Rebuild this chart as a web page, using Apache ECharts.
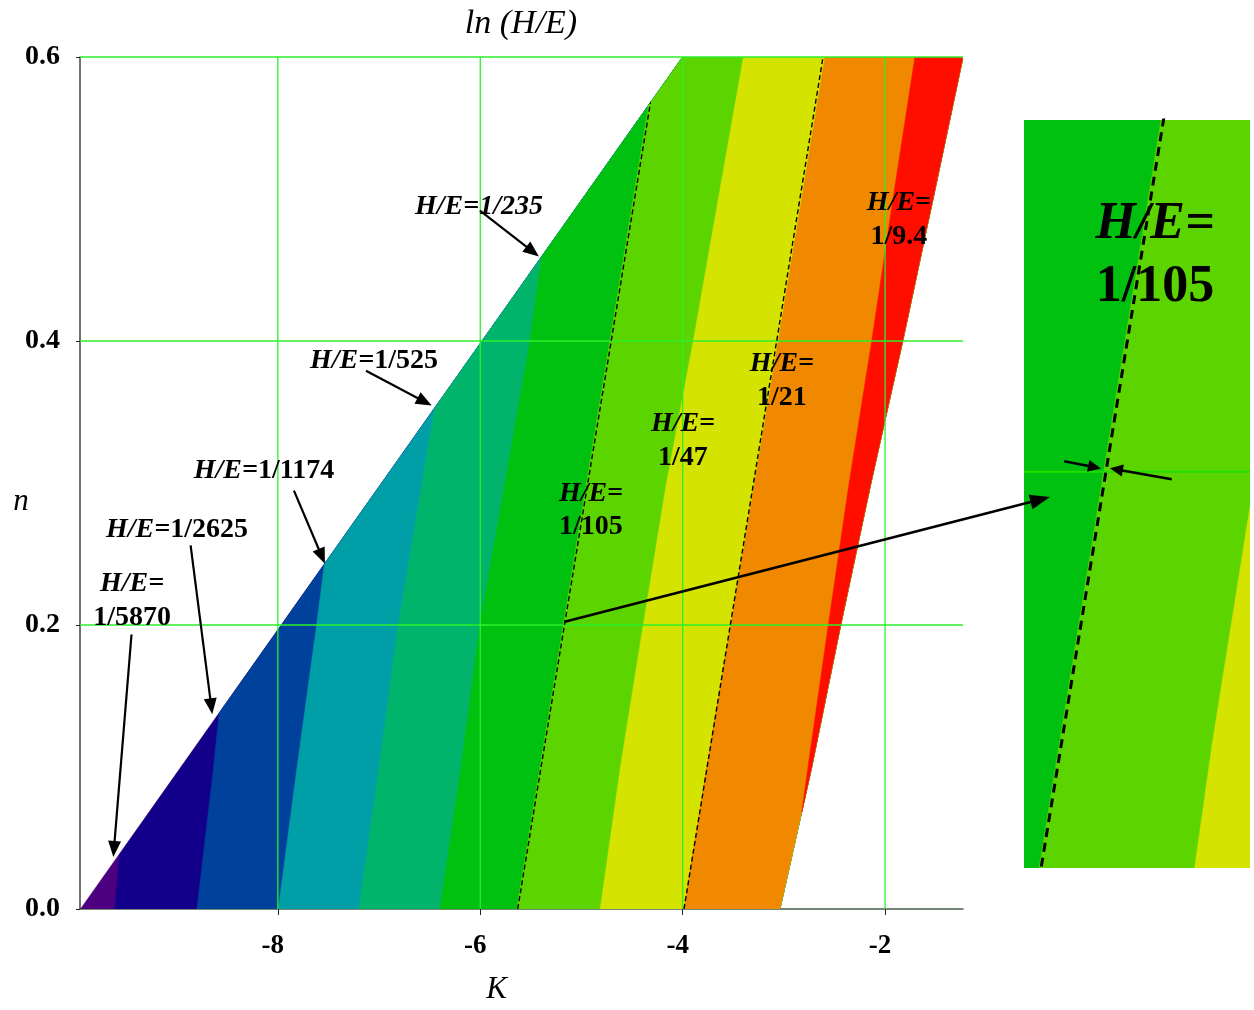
<!DOCTYPE html>
<html><head><meta charset="utf-8">
<script src="https://cdn.jsdelivr.net/npm/echarts@6/dist/echarts.min.js"></script>
<style>html,body{margin:0;padding:0;background:#fff}#c{width:1254px;height:1010px}</style>
</head><body><div id="c"></div>
<script>
// ---------------- DATA ----------------
// Contour boundaries of ln(H/E): K values at the listed n values.
const diagN = [0, 0.6];            // upper-left limit of the domain
const diagK = [-9.95, -4.0];
const rightN = [0, 0.1, 0.2, 0.3, 0.4, 0.5, 0.6];   // right limit of the domain
const rightK = [-3.039, -2.725, -2.439, -2.14, -1.826, -1.527, -1.23];

const b5870N = [0, 0.038];
const b5870K = [-9.61, -9.566];
const b2625N = [0, 0.1, 0.138];
const b2625K = [-8.80, -8.635, -8.581];
const b1174N = [0, 0.1, 0.2, 0.243];
const b1174K = [-7.996, -7.81, -7.617, -7.54];
const b525N = [0, 0.1, 0.2, 0.3, 0.353];
const b525K = [-7.199, -7.0, -6.81, -6.575, -6.449];
const b235N = [0, 0.1, 0.2, 0.3, 0.4, 0.4595];
const b235K = [-6.398, -6.19, -6.003, -5.755, -5.509, -5.393];
const b105N = [0, 0.1, 0.2, 0.3, 0.4, 0.5, 0.566];
const b105K = [-5.64, -5.41, -5.18, -4.95, -4.72, -4.49, -4.337];
const b47N = [0, 0.1, 0.2, 0.3, 0.4, 0.5, 0.6];
const b47K = [-4.815, -4.615, -4.39, -4.16, -3.895, -3.648, -3.40];
const b21N = [0, 0.1, 0.2, 0.3, 0.4, 0.5, 0.6];
const b21K = [-3.987, -3.763, -3.526, -3.29, -3.055, -2.824, -2.594];
const b9N = [0.068, 0.1, 0.2, 0.3, 0.4, 0.5, 0.6];
const b9K = [-2.823, -2.762, -2.561, -2.355, -2.132, -1.922, -1.705];

// Dashed reference lines
const dash105N = [0, 0.568];
const dash105K = [-5.63, -4.318];
const dash21N = [0, 0.6];
const dash21K = [-3.987, -2.613];

// Band names (left edge of each band) and colours
const bandNames = ['< 1/5870', '1/5870–1/2625', '1/2625–1/1174', '1/1174–1/525', '1/525–1/235',
                   '1/235–1/105', '1/105–1/47', '1/47–1/21', '1/21–1/9.4', '> 1/9.4'];
const bandColors = ['#4c007f', '#12008b', '#00419b', '#009fa8', '#00b46c',
                    '#00c10f', '#5bd400', '#d4e300', '#f08800', '#ff0e00'];
const bandEdgeN = [diagN, b5870N, b2625N, b1174N, b525N, b235N, b105N, b47N, b21N, b9N];
const bandEdgeK = [diagK, b5870K, b2625K, b1174K, b525K, b235K, b105K, b47K, b21K, b9K];

// Axis ticks
const xTicks = [-8, -6, -4, -2];
const yTicks = [0.0, 0.2, 0.4, 0.6];
const xGridLines = [-8, -6, -4, -2];
const yGridLines = [0.2, 0.4, 0.6];

// Annotation texts
const labelTexts = ['1/235', '1/525', '1/1174', '1/2625', '1/5870', '1/105', '1/47', '1/21', '1/9.4'];

// ---------------- CHART ----------------
const SERIF = "'Liberation Serif','Times New Roman',serif";
const chart = echarts.init(document.getElementById('c'), null, {renderer: 'canvas'});

function bandPoints(i, api) {
  const en = bandEdgeN[i], ek = bandEdgeK[i];
  const pts = [];
  for (let j = 0; j < en.length; j++) pts.push(api.coord([ek[j], en[j]]));
  if (en[en.length - 1] < diagN[1] - 1e-9) pts.push(api.coord([diagK[1], diagN[1]]));
  const nStart = en[0];
  for (let j = rightN.length - 1; j >= 0; j--) {
    if (rightN[j] >= nStart) pts.push(api.coord([rightK[j], rightN[j]]));
  }
  return pts;
}
function bandRender(params, api) {
  const i = params.dataIndex;
  return {type: 'polygon', z2: i, silent: true,
    shape: {points: bandPoints(i, api)},
    style: {fill: bandColors[i], stroke: bandColors[i], lineWidth: 0.5}};
}
function gridRender(width, color) {
  return function (params, api) {
    const cs = params.coordSys;
    const children = [];
    xGridLines.forEach(v => {
      const p = api.coord([v, 0]);
      if (p[0] >= cs.x - 0.5 && p[0] <= cs.x + cs.width + 0.5)
        children.push({type: 'line', shape: {x1: p[0], y1: cs.y, x2: p[0], y2: cs.y + cs.height},
          style: {stroke: color, lineWidth: width}});
    });
    yGridLines.forEach(v => {
      const p = api.coord([0, v]);
      if (p[1] >= cs.y - 0.5 && p[1] <= cs.y + cs.height + 0.5)
        children.push({type: 'line', shape: {x1: cs.x, y1: p[1], x2: cs.x + cs.width, y2: p[1]},
          style: {stroke: color, lineWidth: width}});
    });
    return {type: 'group', children: children};
  };
}
const bandData = bandNames.map((nm, i) => ({name: nm, value: [i]}));
const zip = (ks, ns) => ks.map((k, j) => [k, ns[j]]);

chart.setOption({
  animation: false,
  backgroundColor: '#fff',
  grid: [
    {left: 80, right: 291, top: 57, bottom: 96},
    {left: 1024, top: 120, width: 226, height: 748}
  ],
  xAxis: [
    {gridIndex: 0, type: 'value', min: -9.955, max: -1.23,
     name: 'K', nameLocation: 'middle', nameGap: 65,
     nameTextStyle: {fontFamily: SERIF, fontStyle: 'italic', fontSize: 31, color: '#000', padding: [0, 50, 0, 0]},
     axisLine: {show: true, lineStyle: {color: '#45604a', width: 1.5}},
     axisTick: {show: true, customValues: xTicks, length: 6, lineStyle: {color: '#222', width: 1}},
     axisLabel: {customValues: xTicks, formatter: v => String(v), margin: 24,
       fontFamily: SERIF, fontWeight: 'bold', fontSize: 27, color: '#000', padding: [0, 10, 0, 0]},
     splitLine: {show: false}},
    {gridIndex: 1, type: 'value', min: -5.594, max: -4.419, show: false}
  ],
  yAxis: [
    {gridIndex: 0, type: 'value', min: 0, max: 0.6, interval: 0.2,
     axisLine: {show: true, lineStyle: {color: '#444', width: 1.5}},
     axisTick: {show: true, length: 4, lineStyle: {color: '#222', width: 1}},
     axisLabel: {formatter: v => v.toFixed(1), margin: 20,
       fontFamily: SERIF, fontWeight: 'bold', fontSize: 28, color: '#000'},
     splitLine: {show: false}},
    {gridIndex: 1, type: 'value', min: 0.054, max: 0.3296, show: false}
  ],
  series: [
    {name: 'ln(H/E) bands', type: 'custom', xAxisIndex: 0, yAxisIndex: 0, z: 1, clip: true,
     renderItem: bandRender, data: bandData},
    {name: 'grid', type: 'custom', xAxisIndex: 0, yAxisIndex: 0, z: 3, clip: false,
     renderItem: gridRender(1.3, '#2af02a'), data: [[0]]},
    {name: 'H/E=1/105 (dashed)', type: 'line', xAxisIndex: 0, yAxisIndex: 0, z: 4, symbol: 'none',
     data: zip(dash105K, dash105N), lineStyle: {color: '#000', width: 1.4, type: [5, 3]}},
    {name: 'H/E=1/21 (dashed)', type: 'line', xAxisIndex: 0, yAxisIndex: 0, z: 4, symbol: 'none',
     data: zip(dash21K, dash21N), lineStyle: {color: '#000', width: 1.4, type: [5, 3]}},
    // inset (zoomed view)
    {name: 'inset bands', type: 'custom', xAxisIndex: 1, yAxisIndex: 1, z: 1, clip: true,
     renderItem: bandRender, data: bandData},
    {name: 'inset grid', type: 'custom', xAxisIndex: 1, yAxisIndex: 1, z: 3, clip: false,
     renderItem: gridRender(2, '#22dd00'), data: [[0]]},
    {name: 'inset dashed', type: 'line', xAxisIndex: 1, yAxisIndex: 1, z: 4, symbol: 'none', clip: true,
     data: zip(dash105K, dash105N), lineStyle: {color: '#000', width: 3, type: [9, 6]}}
  ]
});

// ---------------- ANNOTATIONS ----------------
const rich = (fs) => ({
  i: {fontFamily: SERIF, fontStyle: 'italic', fontWeight: 'bold', fontSize: fs, fill: '#000', lineHeight: fs * 1.2},
  b: {fontFamily: SERIF, fontWeight: 'bold', fontSize: fs, fill: '#000', lineHeight: fs * 1.2}
});
const px = (g, p) => chart.convertToPixel({gridIndex: g}, p);

function arrow(p0, p1, w, hl, hw) {
  const dx = p1[0] - p0[0], dy = p1[1] - p0[1], L = Math.hypot(dx, dy);
  const ux = dx / L, uy = dy / L, bx = p1[0] - ux * hl, by = p1[1] - uy * hl;
  return [
    {type: 'line', z: 20, shape: {x1: p0[0], y1: p0[1], x2: bx + ux * 2, y2: by + uy * 2}, style: {stroke: '#000', lineWidth: w}},
    {type: 'polygon', z: 20, shape: {points: [[p1[0], p1[1]], [bx - uy * hw, by + ux * hw], [bx + uy * hw, by - ux * hw]]}, style: {fill: '#000'}}
  ];
}
function label(g, at, text, fs) {
  const p = px(g, at);
  return {type: 'text', z: 21, x: p[0], y: p[1] + 3,
    style: {text: text, rich: rich(fs), align: 'center', verticalAlign: 'middle'}};
}

const FS = 28;
const els = [];
// labels with arrows pointing at the upper-left edge
els.push(label(0, [-6.013, 0.4965], '{i|H/E=1/235}', FS));
els.push(...arrow(px(0, [-6.003, 0.4918]), px(0, [-5.42, 0.4595]), 2.2, 16, 6.5));
els.push(label(0, [-7.05, 0.388], '{i|H/E=}{b|' + labelTexts[1] + '}', FS));
els.push(...arrow(px(0, [-7.129, 0.3791]), px(0, [-6.48, 0.3545]), 2.2, 16, 6.5));
els.push(label(0, [-8.137, 0.3109], '{i|H/E=}{b|' + labelTexts[2] + '}', FS));
els.push(...arrow(px(0, [-7.841, 0.2946]), px(0, [-7.535, 0.2432]), 2.2, 16, 6.5));
els.push(label(0, [-8.997, 0.2689], '{i|H/E=}{b|' + labelTexts[3] + '}', FS));
els.push(...arrow(px(0, [-8.862, 0.2561]), px(0, [-8.648, 0.1371]), 2.2, 16, 6.5));
els.push(label(0, [-9.441, 0.2192], '{i|H/E=}\n{b|' + labelTexts[4] + '}', FS));
els.push(...arrow(px(0, [-9.446, 0.1933]), px(0, [-9.626, 0.0366]), 2.2, 16, 6.5));
// labels inside the bands
els.push(label(0, [-4.906, 0.2829], '{i|H/E=}\n{b|' + labelTexts[5] + '}', FS));
els.push(label(0, [-3.997, 0.3319], '{i|H/E=}\n{b|' + labelTexts[6] + '}', FS));
els.push(label(0, [-3.019, 0.3739], '{i|H/E=}\n{b|' + labelTexts[7] + '}', FS));
els.push(label(0, [-1.863, 0.4874], '{i|H/E=}\n{b|' + labelTexts[8] + '}', FS));
// connector from main chart to inset
els.push(...arrow(px(0, [-5.166, 0.2023]), px(1, [-5.459, 0.1907]), 2.6, 20, 7.5));
// inset label and arrows
els.push(label(1, [-4.913, 0.2806], '{i|H/E=}\n{b|' + labelTexts[5] + '}', 52));
els.push(...arrow(px(1, [-5.385, 0.2039]), px(1, [-5.194, 0.2012]), 2.6, 13, 6));
els.push(...arrow(px(1, [-4.826, 0.1972]), px(1, [-5.147, 0.2013]), 2.6, 13, 6));
// chart title and y-axis name
els.push({type: 'text', z: 21, x: 521, y: 24,
  style: {text: 'ln (H/E)', align: 'center', verticalAlign: 'middle',
    font: 'italic 34px ' + SERIF, fill: '#000'}});
els.push({type: 'text', z: 21, x: 21, y: 502,
  style: {text: 'n', align: 'center', verticalAlign: 'middle',
    font: 'italic 31px ' + SERIF, fill: '#000'}});

chart.setOption({graphic: {elements: els}});
</script>
</body></html>
